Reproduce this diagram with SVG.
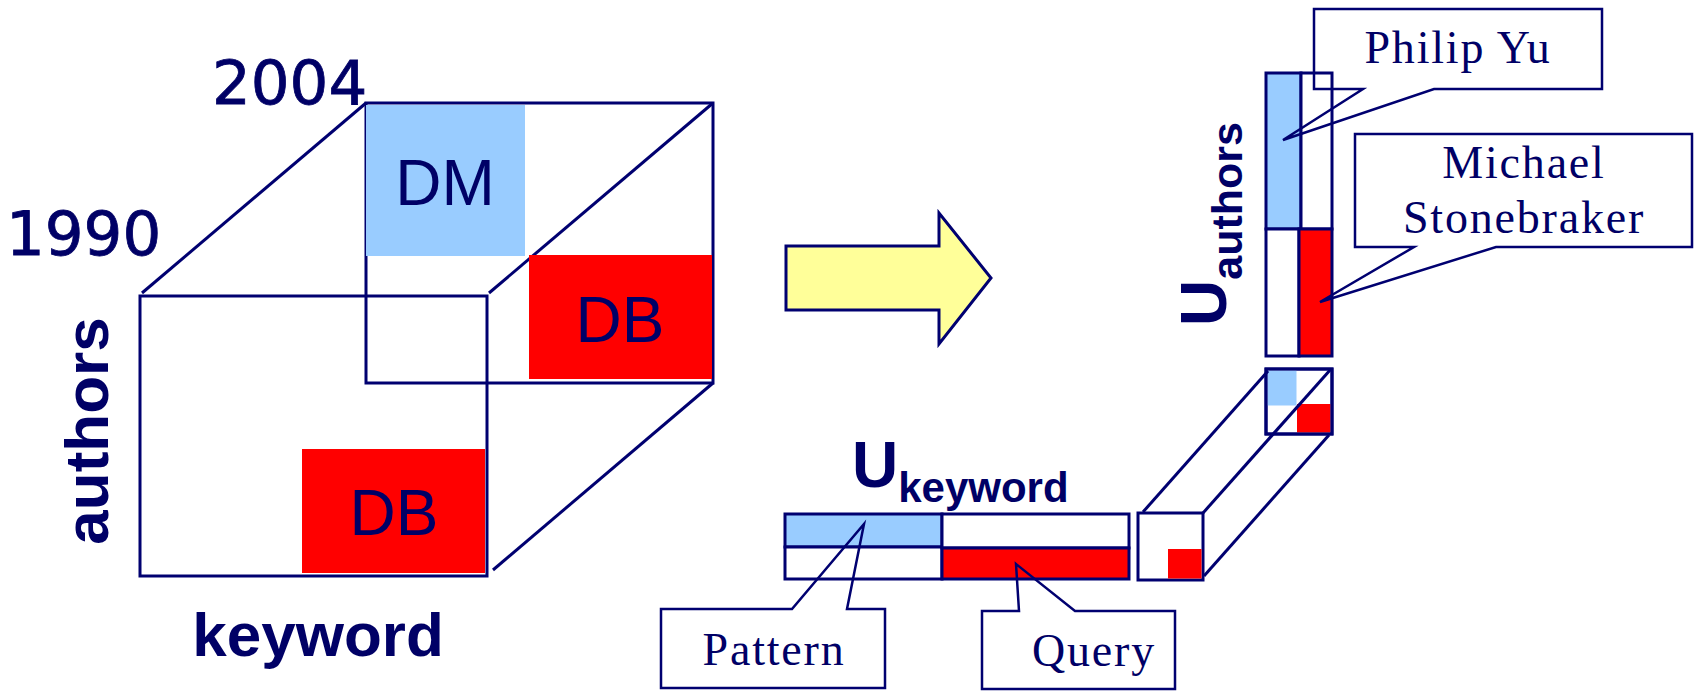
<svg xmlns="http://www.w3.org/2000/svg" width="1698" height="691" viewBox="0 0 1698 691">
<style>
.ln{fill:none;stroke:#000070;stroke-width:3}
.bx{stroke:#000070;stroke-width:3}
.blue{fill:#99ccff}
.red{fill:#ff0000}
.wh{fill:#ffffff}
.co{fill:none;stroke:#000070;stroke-width:2.5;stroke-linejoin:miter}
.num{font-family:"DejaVu Sans",sans-serif;font-size:61px;fill:#000066;stroke:#000066;stroke-width:0.8}
.lbl{font-family:"Liberation Sans",Arial,sans-serif;font-size:64px;fill:#000066;text-anchor:middle}
.bold{font-family:"Liberation Sans",Arial,sans-serif;font-weight:bold;fill:#000066}
.ser{font-family:"Liberation Serif","Times New Roman",serif;font-size:46px;fill:#000066;letter-spacing:1.8px;text-anchor:middle}
</style>
<rect width="1698" height="691" fill="#ffffff"/>

<g id="cube">
  <rect class="ln" x="366" y="103" width="347" height="280"/>
  <rect class="ln" x="140" y="296" width="347" height="280"/>
  <line class="ln" x1="142" y1="293" x2="366" y2="103"/>
  <line class="ln" x1="489" y1="293" x2="713" y2="103"/>
  <line class="ln" x1="493" y1="570" x2="713" y2="383"/>
  <rect class="blue" x="366" y="105" width="159" height="151"/>
  <rect class="red" x="529" y="255" width="183" height="124"/>
  <rect class="red" x="302" y="449" width="183" height="124"/>
  <text class="lbl" x="445" y="205">DM</text>
  <text class="lbl" x="620" y="342">DB</text>
  <text class="lbl" x="394" y="535">DB</text>
</g>
<g id="axis-labels">
  <text class="num" x="212" y="104">2004</text>
  <text class="num" x="6" y="255">1990</text>
  <text class="bold" font-size="62" text-anchor="middle" transform="translate(108,431) rotate(-90)">authors</text>
  <text class="bold" font-size="62" x="318" y="656" text-anchor="middle">keyword</text>
</g>

<g id="arrow">
  <polygon points="786,246 939,246 939,213 991,278 939,344 939,310 786,310" fill="#ffff99" stroke="#000070" stroke-width="3"/>
</g>

<g id="u-authors">
  <rect class="bx blue" x="1266" y="73" width="35" height="156"/>
  <rect class="bx wh" x="1301" y="73" width="31" height="156"/>
  <rect class="bx wh" x="1266" y="229" width="33" height="127"/>
  <rect class="bx red" x="1299" y="229" width="33" height="127"/>
  <text class="bold" font-size="64" transform="translate(1226,326) rotate(-90)">U<tspan font-size="43" dy="16">authors</tspan></text>
</g>

<g id="u-keyword">
  <rect class="bx blue" x="785" y="514" width="157" height="33"/>
  <rect class="bx wh" x="785" y="547" width="157" height="32"/>
  <rect class="bx wh" x="942" y="514" width="187" height="34"/>
  <rect class="bx red" x="942" y="548" width="187" height="31"/>
  <text class="bold" font-size="64" x="852" y="487">U<tspan font-size="42" dy="15">keyword</tspan></text>
</g>

<g id="core-tensor">
  <rect class="bx wh" x="1266" y="369" width="66" height="65"/>
  <rect class="blue" x="1267.5" y="370.5" width="29" height="35"/>
  <rect class="red" x="1297" y="404" width="33.5" height="28.5"/>
  <rect class="ln" x="1266" y="369" width="66" height="65"/>
  <rect class="bx wh" x="1138" y="513" width="65" height="67"/>
  <rect class="red" x="1168" y="549" width="33.5" height="29.5"/>
  <line class="ln" x1="1143" y1="512" x2="1268" y2="371"/>
  <line class="ln" x1="1203" y1="513" x2="1331" y2="369"/>
  <line class="ln" x1="1204" y1="576" x2="1329" y2="435"/>
</g>

<g id="callout-philip">
  <polygon class="co" points="1314,9 1602,9 1602,89 1434,89 1283,140 1363,89 1314,89"/>
  <text class="ser" x="1458" y="63">Philip Yu</text>
</g>
<g id="callout-michael">
  <polygon class="co" points="1355,134 1692,134 1692,247 1496,247 1320,302 1414,247 1355,247"/>
  <text class="ser" x="1524" y="178">Michael</text>
  <text class="ser" x="1524" y="233">Stonebraker</text>
</g>
<g id="callout-pattern">
  <polygon class="co" points="661,609 792,609 864,524 847,609 885,609 885,688 661,688"/>
  <text class="ser" x="774" y="665">Pattern</text>
</g>
<g id="callout-query">
  <polygon class="co" points="982,611 1019,611 1016,564 1075,611 1175,611 1175,689 982,689"/>
  <text class="ser" x="1094" y="666">Query</text>
</g>
</svg>
